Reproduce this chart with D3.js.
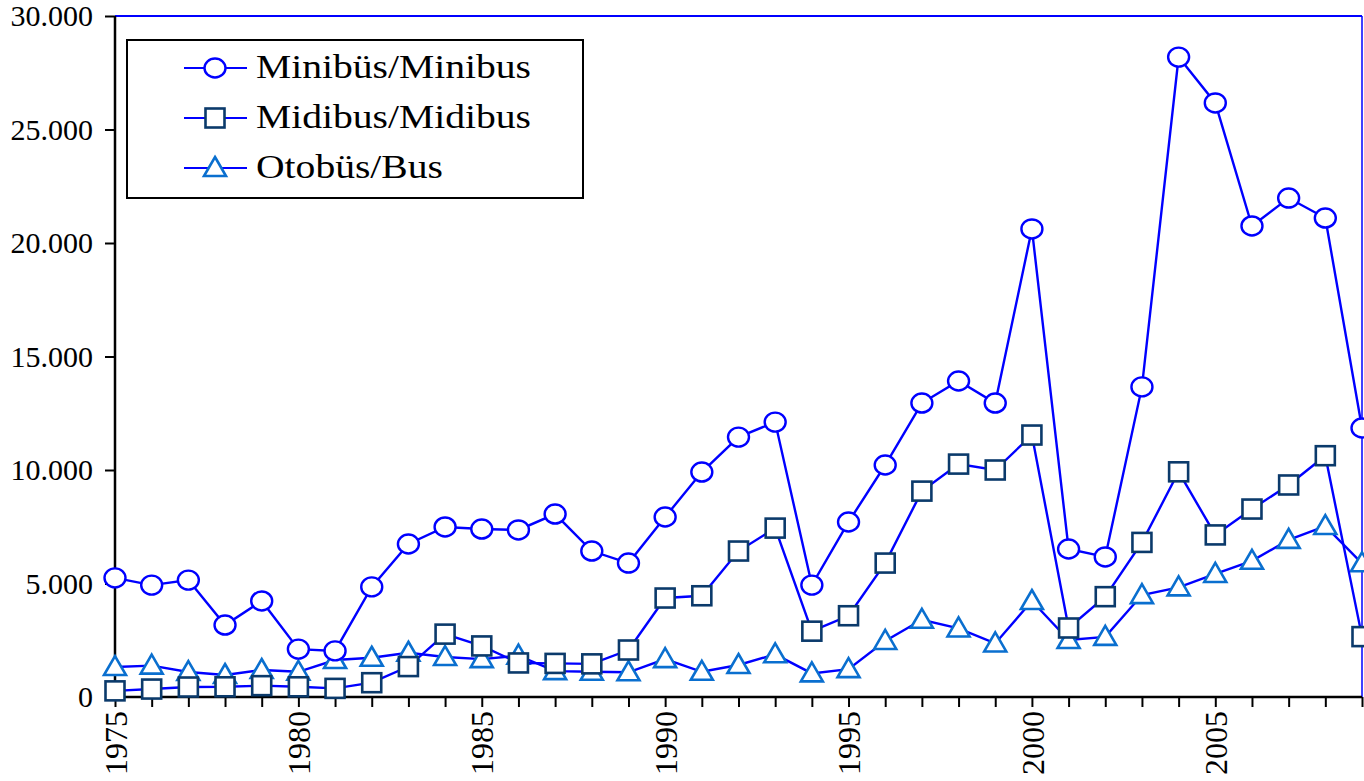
<!DOCTYPE html>
<html>
<head>
<meta charset="utf-8">
<script src="https://cdn.jsdelivr.net/npm/d3@7"></script>
<style>
  body { margin: 0; background: #fff; }
  svg { display: block; }
  text { font-family: "Liberation Serif", "Times New Roman", serif; fill: #000; }
</style>
</head>
<body>
<svg id="chart" width="1364" height="781"></svg>
<script>
// data
const years = d3.range(1975, 2010);
const minibus = [5250, 4930, 5150, 3170, 4230, 2110, 2030, 4850, 6740, 7490,
  7400, 7360, 8060, 6430, 5900, 7930, 9910, 11450, 12110, 4930,
  7710, 10220, 12950, 13920, 12950, 20620, 6520, 6170, 13660, 28190,
  26170, 20750, 21980, 21100, 11850];
const midibus = [270, 350, 440, 450, 500, 450, 380, 630, 1340, 2770,
  2250, 1500, 1480, 1460, 2070, 4360, 4460, 6430, 7440, 2900,
  3580, 5900, 9070, 10260, 10000, 11540, 3040, 4420, 6810, 9920,
  7140, 8280, 9340, 10630, 2660];
const bus = [1320, 1380, 1100, 970, 1190, 1110, 1630, 1730, 1950, 1760,
  1670, 1820, 1140, 1110, 1090, 1670, 1110, 1410, 1880, 1040,
  1230, 2470, 3400, 3020, 2360, 4230, 2510, 2650, 4490, 4830,
  5420, 6000, 6920, 7530, 5890];
const yTicks = [0, 5000, 10000, 15000, 20000, 25000, 30000];
const xLabelYears = [1975, 1980, 1985, 1990, 1995, 2000, 2005];
const seriesNames = ['Minibüs/Minibus', 'Midibus/Midibus', 'Otobüs/Bus'];

const svg = d3.select('#chart');
const DIM = { left: 115, right: 1362, top: 16, bottom: 697 };
const LINE_COLOR = '#0000ff';

const xScale = d3.scaleLinear().domain([1975, 2009]).range([DIM.left, DIM.right]);
const yScale = d3.scaleLinear().domain([0, 30000]).range([DIM.bottom, DIM.top]);

// frame: blue top and right
svg.append('line')
  .attr('x1', DIM.left).attr('x2', DIM.right)
  .attr('y1', DIM.top).attr('y2', DIM.top)
  .attr('stroke', LINE_COLOR).attr('stroke-width', 2);
svg.append('line')
  .attr('x1', DIM.right).attr('x2', DIM.right)
  .attr('y1', DIM.top).attr('y2', DIM.bottom)
  .attr('stroke', LINE_COLOR).attr('stroke-width', 1.5);

// y axis
const yAxis = svg.append('g')
  .attr('transform', `translate(${DIM.left},0)`)
  .call(d3.axisLeft(yScale).tickValues(yTicks).tickSize(10).tickPadding(12)
    .tickFormat(d => d3.format(',')(d).replace(/,/g, '.')));
yAxis.select('.domain').attr('stroke', '#000').attr('stroke-width', 2.5)
  .attr('d', `M0,${DIM.top}V${DIM.bottom}`);
yAxis.selectAll('.tick line').attr('stroke', '#000').attr('stroke-width', 2);
yAxis.selectAll('.tick text').attr('font-size', 30).attr('font-family', '"Liberation Serif", serif').attr('fill', '#000');

// x axis
const xAxis = svg.append('g')
  .attr('transform', `translate(0,${DIM.bottom})`)
  .call(d3.axisBottom(xScale).tickValues(years).tickSize(10)
    .tickFormat(d => xLabelYears.includes(d) ? d : ''));
xAxis.select('.domain').attr('stroke', '#000').attr('stroke-width', 2.5)
  .attr('d', `M${DIM.left},0H${DIM.right}`);
xAxis.selectAll('.tick line').attr('stroke', '#000').attr('stroke-width', 2);
xAxis.selectAll('.tick text')
  .attr('font-size', 32).attr('font-family', '"Liberation Serif", serif').attr('fill', '#000')
  .attr('text-anchor', 'end')
  .attr('transform', 'rotate(-90)')
  .attr('x', -14).attr('y', 0).attr('dy', '0.35em');

const lineGen = (vals) => d3.line()
  .x((d, i) => xScale(years[i]))
  .y(d => yScale(d))(vals);

// marker shapes
function drawMarker(g, type, x, y) {
  if (type === 'circle') {
    g.append('ellipse').attr('cx', x).attr('cy', y).attr('rx', 10.5).attr('ry', 9.5)
      .attr('fill', '#fff').attr('stroke', '#0000ff').attr('stroke-width', 2.4);
  } else if (type === 'square') {
    g.append('rect').attr('x', x - 9.5).attr('y', y - 9.5).attr('width', 19).attr('height', 19)
      .attr('fill', '#fff').attr('stroke', '#0b3a6b').attr('stroke-width', 2.6);
  } else {
    g.append('path').attr('d', `M${x},${y - 11}L${x + 11},${y + 8}L${x - 11},${y + 8}Z`)
      .attr('fill', '#fff').attr('stroke', '#0a6fcf').attr('stroke-width', 2.6)
      .attr('stroke-linejoin', 'miter');
  }
}

const series = [
  { name: seriesNames[2], vals: bus, marker: 'triangle' },
  { name: seriesNames[1], vals: midibus, marker: 'square' },
  { name: seriesNames[0], vals: minibus, marker: 'circle' }
];

series.forEach(s => {
  const g = svg.append('g');
  g.append('path')
    .attr('d', lineGen(s.vals))
    .attr('fill', 'none')
    .attr('stroke', LINE_COLOR)
    .attr('stroke-width', 2.4);
  s.vals.forEach((v, i) => drawMarker(g, s.marker, xScale(years[i]), yScale(v)));
});

// legend
const legend = svg.append('g');
legend.append('rect')
  .attr('x', 127).attr('y', 40).attr('width', 456).attr('height', 158)
  .attr('fill', '#fff').attr('stroke', '#000').attr('stroke-width', 2);
const legendItems = [
  { name: seriesNames[0], marker: 'circle' },
  { name: seriesNames[1], marker: 'square' },
  { name: seriesNames[2], marker: 'triangle' }
];
legendItems.forEach((d, i) => {
  const y = 68 + i * 50;
  legend.append('line').attr('x1', 184).attr('x2', 247).attr('y1', y).attr('y2', y)
    .attr('stroke', LINE_COLOR).attr('stroke-width', 2);
  drawMarker(legend, d.marker, 215, y);
  // the original text is a bit wider than Times, so stretch it horizontally
  legend.append('text')
    .attr('transform', `translate(256,${y + 10}) scale(1.2,1)`)
    .attr('font-size', 33).text(d.name);
});
</script>
</body>
</html>
